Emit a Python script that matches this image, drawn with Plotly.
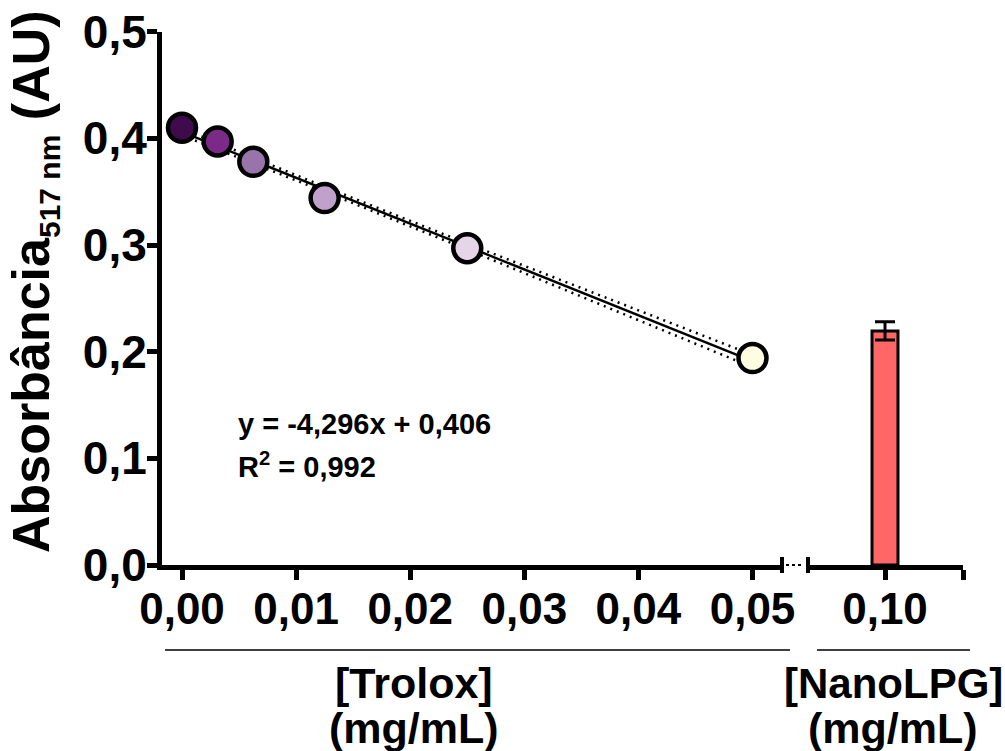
import plotly.graph_objects as go

# ---------------- data ----------------
trolox_conc = [0.0, 0.003125, 0.00625, 0.0125, 0.025, 0.05]          # mg/mL
trolox_abs = [0.410, 0.397, 0.378, 0.344, 0.297, 0.194]              # AU
point_colors = ["#3f0b4c", "#7b2a87", "#9874aa", "#c0a1cc", "#e6d4e8", "#fffde1"]

fit_slope = -4.296
fit_intercept = 0.406
band_halfwidth = [0.0032, 0.0029, 0.0026, 0.0023, 0.0028, 0.0058]   # dotted confidence band

nano_conc = [0.10]
nano_abs = [0.2195]
nano_err = [0.0085]

y_ticks = [0.0, 0.1, 0.2, 0.3, 0.4, 0.5]
y_ticktext = ["0,0", "0,1", "0,2", "0,3", "0,4", "0,5"]
x_ticks = [0.0, 0.01, 0.02, 0.03, 0.04, 0.05]
x_ticktext = ["0,00", "0,01", "0,02", "0,03", "0,04", "0,05"]
x2_ticks = [0.10]
x2_ticktext = ["0,10"]
x2_end_tick = [0.11]

eq_text = "y = -4,296x + 0,406"
r2_text = "R<sup>2</sup> = 0,992"
y_title = "Absorbância<sub><span style='font-size:30px'>517 nm</span></sub> (AU)"

# ---------------- derived ----------------
fit_y = [fit_slope * x + fit_intercept for x in trolox_conc]
band_up = [v + h for v, h in zip(fit_y, band_halfwidth)]
band_lo = [v - h for v, h in zip(fit_y, band_halfwidth)]

W, H = 1005, 751
def px(x):
    return x / W
def py(y):
    return 1 - y / H

FONT = "Liberation Sans, Arial, sans-serif"

fig = go.Figure()

for band in (band_up, band_lo):
    fig.add_trace(go.Scatter(
        x=trolox_conc, y=band, mode="lines",
        line=dict(color="black", width=2.5, dash="2px,5px"),
        hoverinfo="skip", showlegend=False, xaxis="x", yaxis="y"))

fig.add_trace(go.Scatter(
    x=[trolox_conc[0], trolox_conc[-1]], y=[fit_y[0], fit_y[-1]], mode="lines",
    line=dict(color="black", width=2.4), showlegend=False, xaxis="x", yaxis="y"))

fig.add_trace(go.Scatter(
    x=trolox_conc, y=trolox_abs, mode="markers",
    marker=dict(size=28, color=point_colors, line=dict(color="black", width=4.5)),
    showlegend=False, cliponaxis=False, xaxis="x", yaxis="y"))

fig.add_trace(go.Bar(
    x=nano_conc, y=nano_abs, width=0.00333,
    marker=dict(color="#ff6666", line=dict(color="black", width=3)),
    error_y=dict(type="data", array=nano_err, color="black", thickness=3, width=10),
    showlegend=False, xaxis="x2", yaxis="y"))

x_left_dom = [px(162), px(782)]
x_right_dom = [px(807), px(963)]
y_dom = [1 - 565 / H, 1 - 31.7 / H]

axis_common = dict(
    showline=True, linecolor="black", linewidth=5, mirror=False,
    ticks="outside", ticklen=10, tickwidth=5, tickcolor="black",
    showgrid=False, zeroline=False, fixedrange=True,
)

fig.update_layout(
    width=W, height=H,
    margin=dict(l=0, r=0, t=0, b=0),
    paper_bgcolor="white", plot_bgcolor="white",
    showlegend=False,
    font=dict(family=FONT, color="black"),
    xaxis=dict(
        domain=x_left_dom, range=[-0.001753, 0.052585], anchor="y",
        tickvals=x_ticks, ticktext=x_ticktext, ticklabelstandoff=-9,
        tickfont=dict(family=FONT, size=44, weight="bold", color="black"),
        automargin=False, **axis_common),
    xaxis2=dict(
        domain=x_right_dom, range=[0.09, 0.11], anchor="y",
        tickvals=x2_ticks, ticktext=x2_ticktext, ticklabelstandoff=-9,
        tickfont=dict(family=FONT, size=44, weight="bold", color="black"),
        minor=dict(tickvals=x2_end_tick, ticks="outside", ticklen=10,
                   tickwidth=5, tickcolor="black", showgrid=False),
        automargin=False, **axis_common),
    yaxis=dict(
        domain=y_dom, range=[0, 0.5], anchor="x",
        tickvals=y_ticks, ticktext=y_ticktext, ticklabelstandoff=-9,
        tickfont=dict(family=FONT, size=46, weight="bold", color="black"),
        automargin=False, **axis_common),
)

annotations = [
    dict(text=y_title, x=px(34), y=py(282), textangle=-90,
         font=dict(family=FONT, size=52, weight="bold")),
    dict(text=eq_text, x=px(236), y=py(424), xanchor="left",
         font=dict(family=FONT, size=29, weight="bold")),
    dict(text=r2_text, x=px(236), y=py(465), xanchor="left",
         font=dict(family=FONT, size=29, weight="bold")),
    dict(text="[Trolox]", x=px(414), y=py(683),
         font=dict(family=FONT, size=43, weight="bold")),
    dict(text="(mg/mL)", x=px(414), y=py(728),
         font=dict(family=FONT, size=43, weight="bold")),
    dict(text="[NanoLPG]", x=px(893), y=py(683),
         font=dict(family=FONT, size=42, weight="bold")),
    dict(text="(mg/mL)", x=px(893), y=py(728),
         font=dict(family=FONT, size=43, weight="bold")),
]
for a in annotations:
    a.update(xref="paper", yref="paper", showarrow=False,
             yanchor=a.get("yanchor", "middle"), xanchor=a.get("xanchor", "center"))
fig.update_layout(annotations=annotations)

shapes = [
    # group underlines
    dict(type="line", x0=px(165), x1=px(790), y0=py(650), y1=py(650),
         line=dict(color="black", width=1.5)),
    dict(type="line", x0=px(817), x1=px(970), y0=py(650), y1=py(650),
         line=dict(color="black", width=1.5)),
    # axis break marks
    dict(type="line", x0=px(782), x1=px(782), y0=py(557), y1=py(573),
         line=dict(color="black", width=4)),
    dict(type="line", x0=px(808), x1=px(808), y0=py(557), y1=py(573),
         line=dict(color="black", width=4)),
    dict(type="line", x0=px(786), x1=px(804), y0=py(565), y1=py(565),
         line=dict(color="black", width=2, dash="dot")),
]
for s in shapes:
    s.update(xref="paper", yref="paper")
fig.update_layout(shapes=shapes)

fig.write_html("out.html")
